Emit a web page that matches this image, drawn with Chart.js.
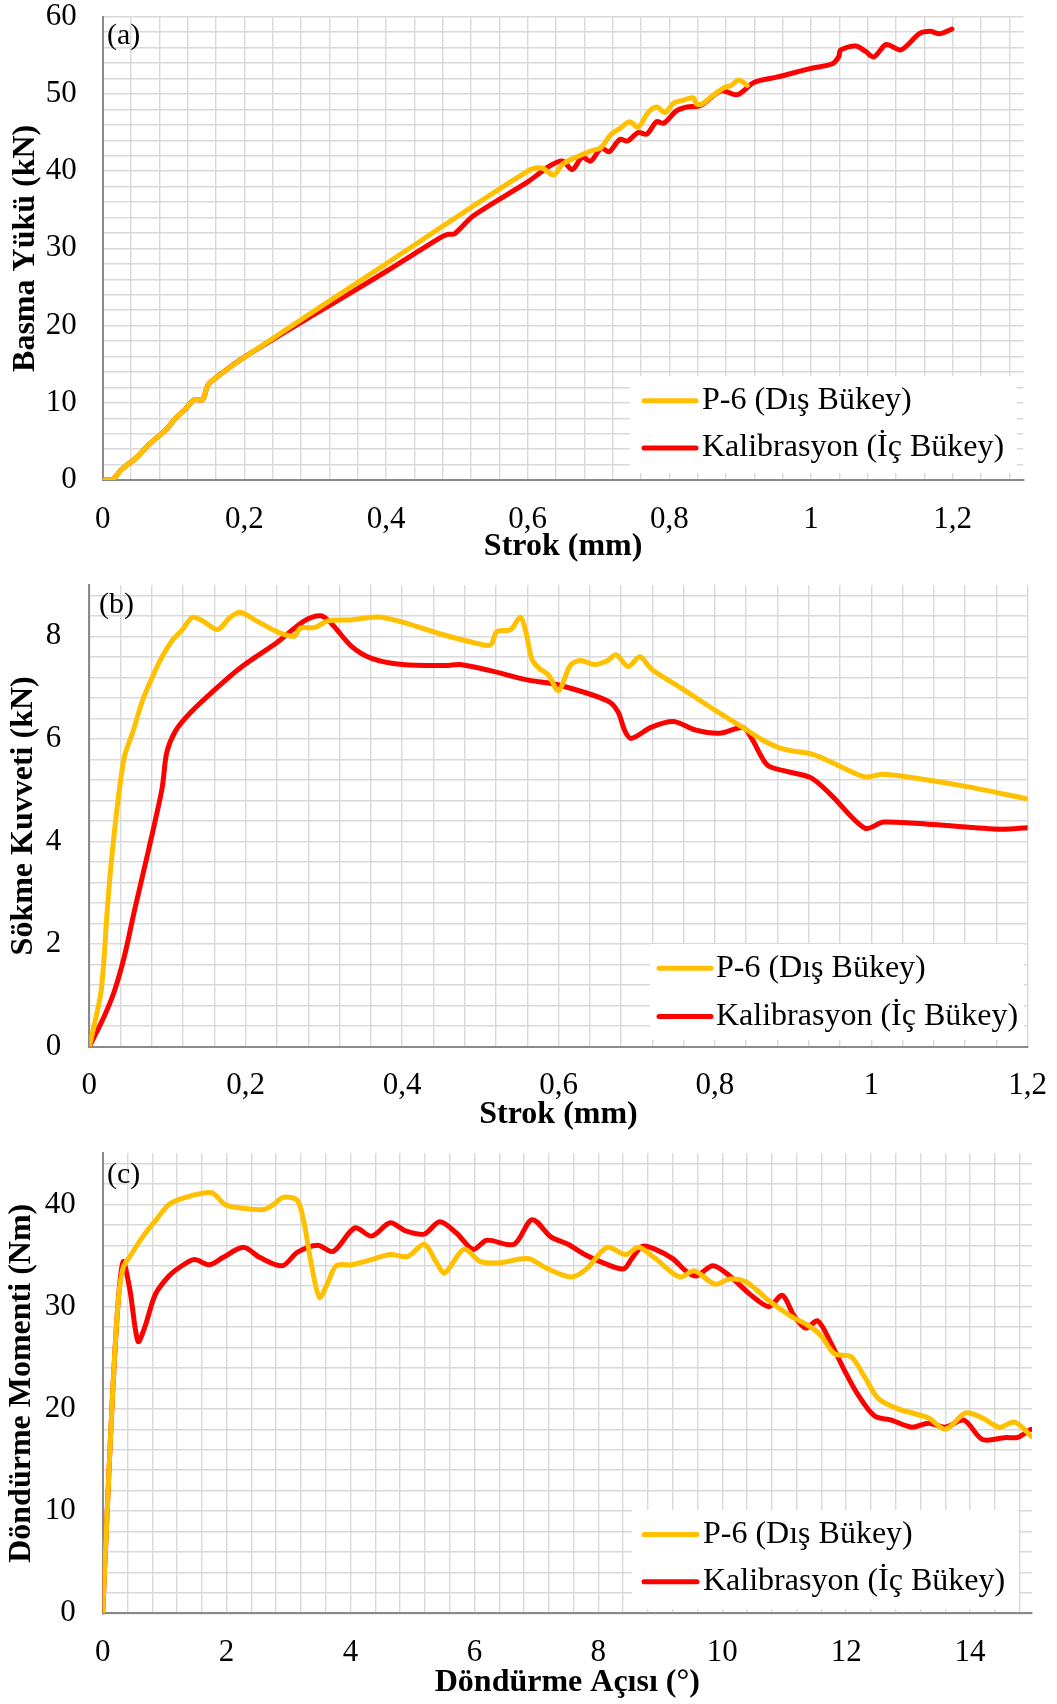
<!DOCTYPE html>
<html>
<head>
<meta charset="utf-8">
<script src="https://cdn.jsdelivr.net/npm/chart.js@4.4.1/dist/chart.umd.min.js"></script>
<style>
  html, body { margin: 0; padding: 0; background: #ffffff; }
  .panel { position: relative; width: 1057px; height: 568px; }
  canvas { display: block; }
</style>
</head>
<body>
<div class="panel"><canvas id="chartA" width="1057" height="568"></canvas></div>
<div class="panel"><canvas id="chartB" width="1057" height="568"></canvas></div>
<div class="panel"><canvas id="chartC" width="1057" height="568"></canvas></div>
<script>
// ---------- Series names ----------
const seriesNames = ['P-6 (Dış Bükey)', 'Kalibrasyon (İç Bükey)'];

// ---------- (a) Basma Yükü vs Strok ----------
const strokA_p6 = [0, 0.013, 0.026, 0.05, 0.064, 0.088, 0.103, 0.117, 0.129, 0.141, 0.148, 0.158, 0.2, 0.4, 0.6, 0.62, 0.637, 0.649, 0.673, 0.692, 0.703, 0.718, 0.73, 0.744, 0.756, 0.77, 0.782, 0.794, 0.806, 0.82, 0.834, 0.838, 0.846, 0.863, 0.877, 0.887, 0.898, 0.91];
const loadA_p6 = [0, 0, 1.3, 3.1, 4.5, 6.4, 8.0, 9.2, 10.4, 10.4, 12.2, 13.1, 15.9, 28.0, 40.0, 40.4, 39.5, 40.9, 42.0, 42.7, 43.0, 44.8, 45.5, 46.4, 45.7, 47.6, 48.3, 47.6, 48.8, 49.2, 49.5, 48.7, 48.7, 49.9, 50.8, 51.1, 51.8, 51.1];
const strokA_kal = [0, 0.013, 0.026, 0.05, 0.064, 0.088, 0.103, 0.117, 0.129, 0.141, 0.148, 0.158, 0.2, 0.3, 0.4, 0.475, 0.487, 0.497, 0.523, 0.6, 0.63, 0.649, 0.663, 0.677, 0.689, 0.704, 0.715, 0.73, 0.741, 0.756, 0.768, 0.782, 0.792, 0.81, 0.825, 0.844, 0.873, 0.896, 0.92, 0.953, 1.0, 1.03, 1.039, 1.042, 1.063, 1.077, 1.089, 1.106, 1.127, 1.153, 1.168, 1.182, 1.199];
const loadA_kal = [0, 0, 1.3, 3.1, 4.5, 6.4, 8.0, 9.2, 10.4, 10.4, 12.2, 13.1, 15.9, 21.5, 27.0, 31.3, 31.8, 31.9, 34.2, 38.6, 40.6, 41.3, 40.2, 41.8, 41.3, 43.0, 42.5, 44.1, 43.9, 45.0, 44.8, 46.4, 46.2, 47.8, 48.3, 48.5, 50.4, 49.9, 51.5, 52.2, 53.3, 53.9, 54.8, 55.7, 56.2, 55.5, 54.8, 56.4, 55.7, 57.8, 58.1, 57.8, 58.4];
const xTicksA = [0, 0.2, 0.4, 0.6, 0.8, 1, 1.2];
const xLabelsA = ['0', '0,2', '0,4', '0,6', '0,8', '1', '1,2'];
const yTicksA = [0, 10, 20, 30, 40, 50, 60];
const yLabelsA = ['0', '10', '20', '30', '40', '50', '60'];

// ---------- (b) Sökme Kuvveti vs Strok ----------
const strokB_p6 = [0, 0.015, 0.023, 0.028, 0.037, 0.045, 0.056, 0.067, 0.078, 0.093, 0.106, 0.119, 0.132, 0.145, 0.164, 0.18, 0.193, 0.214, 0.24, 0.262, 0.27, 0.288, 0.305, 0.335, 0.361, 0.374, 0.404, 0.448, 0.491, 0.513, 0.521, 0.539, 0.551, 0.558, 0.566, 0.575, 0.587, 0.6, 0.615, 0.628, 0.646, 0.663, 0.674, 0.689, 0.704, 0.719, 0.758, 0.8, 0.836, 0.862, 0.888, 0.927, 0.962, 0.992, 1.014, 1.036, 1.122, 1.2];
const forceB_p6 = [0, 1.08, 2.67, 3.58, 4.83, 5.66, 6.15, 6.7, 7.12, 7.6, 7.92, 8.13, 8.37, 8.30, 8.13, 8.37, 8.47, 8.30, 8.09, 8.0, 8.16, 8.17, 8.30, 8.32, 8.37, 8.37, 8.26, 8.05, 7.88, 7.83, 8.09, 8.13, 8.37, 8.1, 7.55, 7.38, 7.25, 6.94, 7.43, 7.53, 7.45, 7.53, 7.64, 7.41, 7.6, 7.36, 6.98, 6.56, 6.22, 5.97, 5.8, 5.69, 5.45, 5.26, 5.31, 5.28, 5.07, 4.83];
const strokB_kal = [0, 0.019, 0.032, 0.045, 0.058, 0.076, 0.093, 0.099, 0.11, 0.128, 0.162, 0.197, 0.24, 0.275, 0.296, 0.309, 0.335, 0.361, 0.4, 0.456, 0.474, 0.513, 0.56, 0.6, 0.663, 0.676, 0.685, 0.693, 0.719, 0.747, 0.776, 0.806, 0.836, 0.847, 0.867, 0.888, 0.923, 0.949, 0.992, 1.016, 1.079, 1.166, 1.2];
const forceB_kal = [0, 0.59, 1.08, 1.77, 2.67, 3.85, 5.03, 5.73, 6.15, 6.49, 6.98, 7.43, 7.88, 8.3, 8.40, 8.26, 7.81, 7.57, 7.45, 7.43, 7.45, 7.33, 7.15, 7.05, 6.74, 6.53, 6.15, 6.01, 6.23, 6.34, 6.17, 6.11, 6.22, 6.01, 5.49, 5.38, 5.24, 4.9, 4.26, 4.38, 4.33, 4.24, 4.27];
const xTicksB = [0, 0.2, 0.4, 0.6, 0.8, 1, 1.2];
const xLabelsB = ['0', '0,2', '0,4', '0,6', '0,8', '1', '1,2'];
const yTicksB = [0, 2, 4, 6, 8];
const yLabelsB = ['0', '2', '4', '6', '8'];

// ---------- (c) Döndürme Momenti vs Döndürme Açısı ----------
const angleC_p6 = [0, 0.08, 0.16, 0.25, 0.33, 0.46, 0.63, 0.85, 1.07, 1.34, 1.61, 1.78, 1.97, 2.16, 2.6, 2.76, 2.92, 3.14, 3.25, 3.36, 3.5, 3.63, 3.77, 4.02, 4.34, 4.64, 4.92, 5.19, 5.38, 5.52, 5.83, 6.1, 6.42, 6.86, 7.18, 7.56, 7.81, 8.14, 8.44, 8.65, 8.92, 9.31, 9.55, 9.88, 10.12, 10.39, 10.77, 11.1, 11.43, 11.59, 11.81, 12.08, 12.3, 12.52, 12.84, 13.33, 13.6, 13.93, 14.2, 14.47, 14.72, 14.99];
const momentC_p6 = [0, 11, 21.5, 30.5, 33.8, 35.1, 36.7, 38.4, 40.0, 40.7, 41.1, 41.1, 40.0, 39.7, 39.5, 40.0, 40.7, 40.4, 38.2, 34.4, 30.9, 32.3, 34.0, 34.1, 34.6, 35.1, 34.9, 36.1, 34.4, 33.3, 35.6, 34.4, 34.3, 34.7, 33.7, 32.9, 33.7, 35.8, 35.1, 35.8, 34.7, 32.9, 33.5, 32.2, 32.7, 32.4, 30.5, 29.1, 28.0, 27.2, 25.4, 25.1, 23.1, 21.0, 20.0, 19.1, 18.0, 19.6, 19.1, 18.2, 18.7, 17.3];
const angleC_kal = [0, 0.08, 0.16, 0.25, 0.33, 0.44, 0.57, 0.68, 0.85, 1.07, 1.28, 1.48, 1.72, 1.94, 2.27, 2.54, 2.9, 3.14, 3.47, 3.72, 4.07, 4.34, 4.64, 4.89, 5.19, 5.44, 5.71, 5.98, 6.2, 6.64, 6.93, 7.24, 7.51, 7.78, 8.11, 8.41, 8.54, 8.71, 8.92, 9.2, 9.41, 9.58, 9.85, 10.12, 10.45, 10.75, 10.97, 11.16, 11.35, 11.54, 11.75, 11.97, 12.19, 12.46, 12.73, 13.06, 13.33, 13.6, 13.9, 14.2, 14.58, 14.77, 14.98];
const momentC_kal = [0, 11, 21.5, 30.5, 34.4, 31.6, 26.6, 28.0, 31.2, 33.0, 34.0, 34.6, 34.1, 34.8, 35.8, 34.8, 34.0, 35.3, 36.0, 35.4, 37.7, 36.9, 38.2, 37.4, 37.1, 38.3, 37.2, 35.6, 36.5, 36.1, 38.5, 36.8, 36.1, 35.1, 34.2, 33.7, 34.7, 35.9, 35.6, 34.7, 33.5, 33.0, 34.0, 33.0, 31.2, 30.0, 31.1, 29.1, 27.9, 28.6, 26.5, 23.8, 21.4, 19.3, 18.9, 18.2, 18.6, 18.2, 18.9, 17.0, 17.2, 17.2, 18.0];
const xTicksC = [0, 2, 4, 6, 8, 10, 12, 14];
const xLabelsC = ['0', '2', '4', '6', '8', '10', '12', '14'];
const yTicksC = [0, 10, 20, 30, 40];
const yLabelsC = ['0', '10', '20', '30', '40'];

// ---------- Shared styling ----------
const SERIF = '"Liberation Serif", "Times New Roman", serif';
const COLORS = ['#FFC000', '#FF0000'];
const GRID = '#d9d9d9';
const AXIS = '#8a8a8a';

function toPoints(xs, ys) {
  return xs.map((x, i) => ({ x: x, y: ys[i] }));
}

function majorLabel(v, vals, labels) {
  for (let i = 0; i < vals.length; i++) {
    if (Math.abs(v - vals[i]) < 1e-6) return labels[i];
  }
  return '';
}

// Keep the plot rectangle fixed: the scale reserves exactly the given space
function fixScale(s, prop, size) {
  s[prop] = size;
  s.paddingTop = 0;
  s.paddingBottom = 0;
  s.paddingLeft = 0;
  s.paddingRight = 0;
}

// White legend box drawn inside the plot area
const insetLegend = {
  id: 'insetLegend',
  afterDatasetsDraw(chart, args, o) {
    const ctx = chart.ctx;
    ctx.save();
    ctx.fillStyle = '#ffffff';
    ctx.fillRect(o.left, o.top, o.right - o.left, o.bottom - o.top);
    ctx.font = '32px ' + SERIF;
    ctx.textAlign = 'left';
    ctx.textBaseline = 'middle';
    chart.data.datasets.forEach((ds, i) => {
      const y = o.rows[i];
      ctx.strokeStyle = ds.borderColor;
      ctx.lineWidth = ds.borderWidth;
      ctx.lineCap = 'round';
      ctx.beginPath();
      ctx.moveTo(o.lineX0, y);
      ctx.lineTo(o.lineX1, y);
      ctx.stroke();
      ctx.fillStyle = '#000000';
      ctx.fillText(ds.label, o.textX, y);
    });
    ctx.restore();
  }
};

// Panel letter in the top-left corner of the plot area
const panelTag = {
  id: 'panelTag',
  afterDraw(chart, args, o) {
    const ctx = chart.ctx;
    ctx.save();
    ctx.font = '30px ' + SERIF;
    ctx.fillStyle = '#000000';
    ctx.textAlign = 'left';
    ctx.textBaseline = 'middle';
    ctx.fillText(o.text, o.x, o.y);
    ctx.restore();
  }
};

function makeChart(id, cfg) {
  const datasets = cfg.series.map((s, i) => ({
    label: seriesNames[i],
    data: toPoints(s[0], s[1]),
    borderColor: COLORS[i],
    backgroundColor: COLORS[i],
    borderWidth: 5,
    pointRadius: 0,
    tension: 0.3,
    fill: false,
    borderCapStyle: 'round',
    borderJoinStyle: 'round'
  }));
  return new Chart(document.getElementById(id), {
    type: 'line',
    data: { datasets: datasets },
    plugins: [insetLegend, panelTag],
    options: {
      responsive: false,
      animation: false,
      devicePixelRatio: 1,
      layout: { padding: { top: cfg.top, right: cfg.right, left: 0, bottom: 0 } },
      plugins: {
        legend: { display: false },
        tooltip: { enabled: false },
        insetLegend: cfg.legend,
        panelTag: cfg.tag
      },
      scales: {
        x: {
          type: 'linear',
          min: cfg.xMin, max: cfg.xMax,
          afterFit: (s) => fixScale(s, 'height', cfg.bottomSpace),
          grid: { color: GRID, lineWidth: 1.4, drawTicks: false },
          border: { display: true, color: AXIS, width: 2 },
          ticks: {
            stepSize: cfg.xStep,
            includeBounds: false,
            autoSkip: false,
            maxRotation: 0,
            padding: 24,
            color: '#000000',
            font: { family: SERIF, size: 31, lineHeight: 1.0 },
            callback: (v) => majorLabel(v, cfg.xTicks, cfg.xLabels)
          },
          title: {
            display: true,
            text: cfg.xTitle,
            color: '#000000',
            font: { family: SERIF, size: 32, weight: 'bold', lineHeight: 1.2 },
            padding: { top: 0, bottom: 2 }
          }
        },
        y: {
          type: 'linear',
          min: cfg.yMin, max: cfg.yMax,
          afterFit: (s) => fixScale(s, 'width', cfg.leftSpace),
          grid: { color: GRID, lineWidth: 1.4, drawTicks: false },
          border: { display: true, color: AXIS, width: 2 },
          ticks: {
            stepSize: cfg.yStep,
            includeBounds: false,
            autoSkip: false,
            padding: cfg.yTickPad,
            color: '#000000',
            font: { family: SERIF, size: 31, lineHeight: 1.0 },
            callback: (v) => majorLabel(v, cfg.yTicks, cfg.yLabels)
          },
          title: {
            display: true,
            text: cfg.yTitle,
            color: '#000000',
            font: { family: SERIF, size: 32, weight: 'bold', lineHeight: 1.2 },
            padding: { top: cfg.yTitlePad, bottom: 0 }
          }
        }
      }
    }
  });
}

makeChart('chartA', {
  series: [[strokA_p6, loadA_p6], [strokA_kal, loadA_kal]],
  xMin: 0, xMax: 1.3, xStep: 0.04, xTicks: xTicksA, xLabels: xLabelsA,
  yMin: 0, yMax: 60, yStep: 2, yTicks: yTicksA, yLabels: yLabelsA,
  xTitle: 'Strok (mm)', yTitle: 'Basma Yükü (kN)',
  top: 16.7, right: 33.5, leftSpace: 102.7, bottomSpace: 88, yTitlePad: 7, yTickPad: 26,
  legend: { left: 630, top: 376, right: 1017, bottom: 473, rows: [400.7, 448], lineX0: 644, lineX1: 696, textX: 702 },
  tag: { text: '(a)', x: 107, y: 36 }
});

makeChart('chartB', {
  series: [[strokB_p6, forceB_p6], [strokB_kal, forceB_kal]],
  xMin: 0, xMax: 1.2, xStep: 0.04, xTicks: xTicksB, xLabels: xLabelsB,
  yMin: 0, yMax: 9, yStep: 0.4, yTicks: yTicksB, yLabels: yLabelsB,
  xTitle: 'Strok (mm)', yTitle: 'Sökme Kuvveti (kN)',
  top: 17, right: 29.3, leftSpace: 89.3, bottomSpace: 89.3, yTitlePad: 5, yTickPad: 28,
  legend: { left: 650, top: 376, right: 1024, bottom: 472, rows: [400.2, 448.4], lineX0: 659, lineX1: 711, textX: 716 },
  tag: { text: '(b)', x: 99, y: 37 }
});

makeChart('chartC', {
  series: [[angleC_p6, momentC_p6], [angleC_kal, momentC_kal]],
  xMin: 0, xMax: 15, xStep: 0.4, xTicks: xTicksC, xLabels: xLabelsC,
  yMin: 0, yMax: 45, yStep: 2, yTicks: yTicksC, yLabels: yLabelsC,
  xTitle: 'Döndürme Açısı (°)', yTitle: 'Döndürme Momenti (Nm)',
  top: 17.3, right: 25, leftSpace: 102.7, bottomSpace: 90.7, yTitlePad: 3, yTickPad: 27,
  legend: { left: 632, top: 374, right: 1019, bottom: 473, rows: [398.6, 445.8], lineX0: 644, lineX1: 697, textX: 703 },
  tag: { text: '(c)', x: 107, y: 39 }
});
</script>
</body>
</html>
